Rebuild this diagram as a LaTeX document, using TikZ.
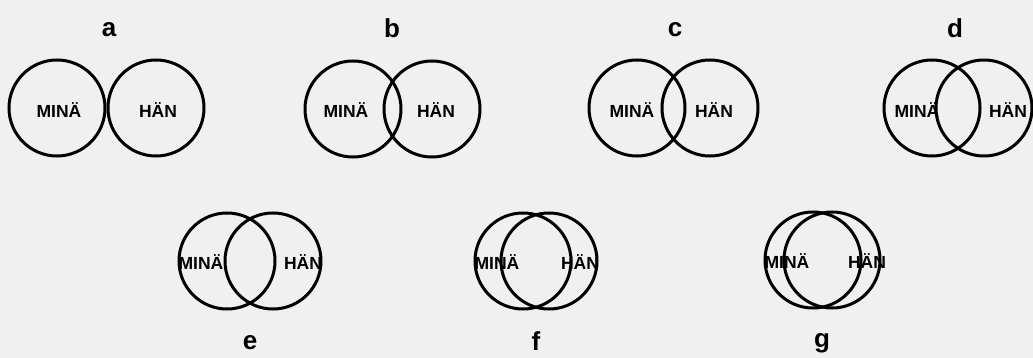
\documentclass[tikz,border=0pt]{standalone}
\usepackage{fontspec}
\setmainfont{Liberation Sans}
\begin{document}
\begin{tikzpicture}[x=1pt,y=-1pt,
  ring/.style={draw=black,line width=3pt,circle,minimum size=96pt,inner sep=0pt},
  word/.style={font=\fontsize{17.5}{17.5}\selectfont\bfseries,inner sep=0pt},
  tag/.style={font=\fontsize{26}{26}\selectfont\bfseries,inner sep=0pt}]
\fill[black!6] (0,0) rectangle (1033,358);
\useasboundingbox (0,0) rectangle (1033,358);
% a
\node[ring] (a1) at (57,108) {};
\node[ring] (a2) at (156,108) {};
\node[word] (am) at (59,110) {MINÄ};
\node[word] (ah) at (158,110) {HÄN};
\node[tag] (al) at (109,30) {a};
% b
\node[ring] (b1) at (353,109) {};
\node[ring] (b2) at (432,109) {};
\node[word] (bm) at (346,110) {MINÄ};
\node[word] (bh) at (436,110) {HÄN};
\node[tag] (bl) at (392,28) {b};
% c
\node[ring] (c1) at (637,108) {};
\node[ring] (c2) at (710,108) {};
\node[word] (cm) at (632,110) {MINÄ};
\node[word] (ch) at (714,110) {HÄN};
\node[tag] (cl) at (675,30) {c};
% d
\node[ring] (d1) at (932,108) {};
\node[ring] (d2) at (984,108) {};
\node[word] (dm) at (917,110) {MINÄ};
\node[word] (dh) at (1008,110) {HÄN};
\node[tag] (dl) at (955,28) {d};
% e
\node[ring] (e1) at (227,261) {};
\node[ring] (e2) at (273,261) {};
\node[word] (em) at (201,262) {MINÄ};
\node[word] (eh) at (303,262) {HÄN};
\node[tag] (el) at (250,343) {e};
% f
\node[ring] (f1) at (523,261) {};
\node[ring] (f2) at (549,261) {};
\node[word] (fm) at (497,262) {MINÄ};
\node[word] (fh) at (580,262) {HÄN};
\node[tag] (fl) at (536,341) {f};
% g
\node[ring] (g1) at (813,260) {};
\node[ring] (g2) at (832,260) {};
\node[word] (gm) at (787,261) {MINÄ};
\node[word] (gh) at (867,261) {HÄN};
\node[tag] (gl) at (822,343) {g};
\end{tikzpicture}
\end{document}
